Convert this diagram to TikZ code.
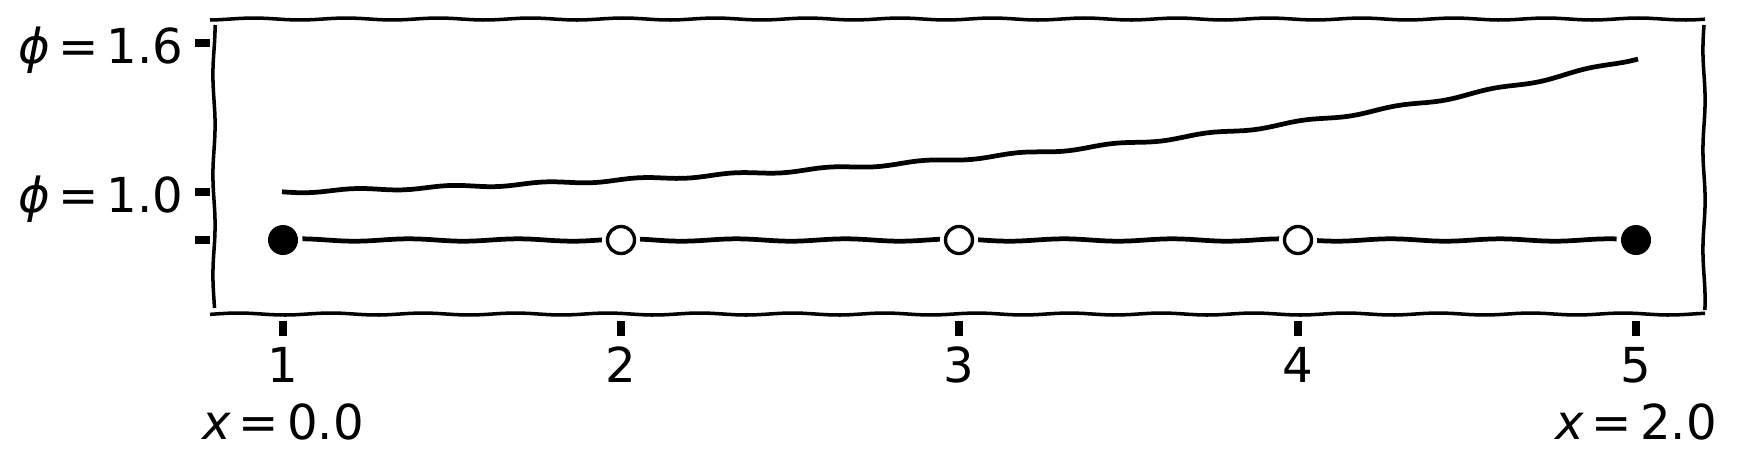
\documentclass[tikz,border=0pt]{standalone}
\usepackage{fontspec}
\setmainfont{DejaVu Sans}
\usetikzlibrary{positioning}
\newcommand{\eqgap}{\hspace{0.17em}=\hspace{0.17em}}
\tikzset{
  frame/.style={line width=1pt},
  curve/.style={line width=1.35pt},
  tickmark/.style={line width=2.1pt},
  full/.style={circle, inner sep=0pt, minimum size=0.3cm, fill=black,
    preaction={draw=white, line width=0.09cm}},
  hollow/.style={circle, inner sep=0pt, minimum size=0.27cm, fill=white,
    draw=black, line width=0.95pt, preaction={draw=white, line width=0.11cm}},
  lab/.style={inner sep=0pt}
}
\begin{document}
\begin{tikzpicture}[x=0.01cm, y=-0.01cm, font=\fontsize{13.7pt}{16pt}\selectfont]
\useasboundingbox (0,0) rectangle (1737,466);
% axes box
\draw[frame] plot[domain=210:1705, samples=160] (\x, {19+1*sin(3.9*\x)});
\draw[frame] plot[domain=210:1705, samples=160] (\x, {314+1*sin(3.9*\x+60)});
\draw[frame] plot[domain=25:308, samples=40] ({214+1.1*sin(3.6*\x)}, \x);
\draw[frame] plot[domain=25:310, samples=40] ({1704+1.1*sin(3.6*\x+90)}, \x);
% ticks
\draw[tickmark] (195,43) -- (210,43);
\draw[tickmark] (195,192) -- (210,192);
\draw[tickmark] (195,240) -- (210,240);
\draw[tickmark] (283,321) -- (283,336);
\draw[tickmark] (621,321) -- (621,336);
\draw[tickmark] (959,321) -- (959,336);
\draw[tickmark] (1298,321) -- (1298,336);
\draw[tickmark] (1636,321) -- (1636,336);
% data
\draw[curve] plot[domain=282:1638, samples=180]
  (\x, {192-16*(exp(2.24*(\x-282)/1356)-1)+1.4*sin(3.8*\x)});
\draw[curve] plot[domain=283:1636, samples=180] (\x, {240+1.2*sin(3.3*\x)});
\node[full] (p1) at (283,240) {};
\node[hollow] (p2) at (621,240) {};
\node[hollow] (p3) at (959,240) {};
\node[hollow] (p4) at (1298,240) {};
\node[full] (p5) at (1636,240) {};
% labels
\node[lab, anchor=base east] (phihi) at (184,63) {{\itshape ϕ}\eqgap 1.6};
\node[lab, anchor=base east] (philo) at (184,212) {{\itshape ϕ}\eqgap 1.0};
\node[lab, anchor=base] (n1) at (283,382) {1};
\node[lab, anchor=base] (n2) at (621,382) {2};
\node[lab, anchor=base] (n3) at (959,382) {3};
\node[lab, anchor=base] (n4) at (1298,382) {4};
\node[lab, anchor=base] (n5) at (1636,382) {5};
\node[lab] (xa) [below=0.2cm of n1] {{\itshape x}\eqgap 0.0};
\node[lab] (xb) [below=0.2cm of n5] {{\itshape x}\eqgap 2.0};
\end{tikzpicture}
\end{document}
